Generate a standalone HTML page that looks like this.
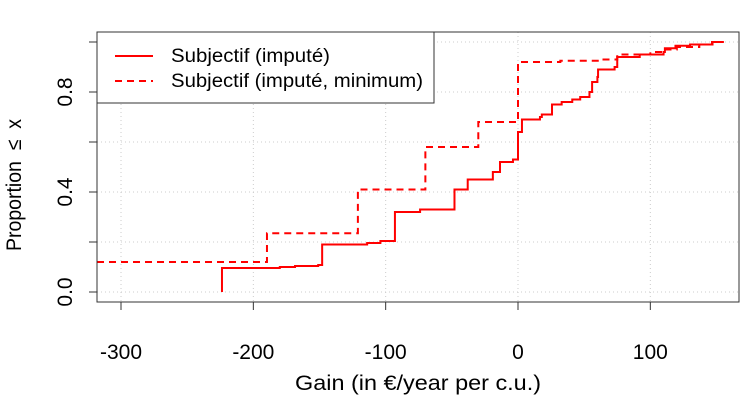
<!DOCTYPE html>
<html><head><meta charset="utf-8"><style>
body{margin:0;background:#fff}
svg{display:block;font-family:"Liberation Sans",sans-serif}
</style></head><body>
<svg id="chart" width="743" height="400">
<g id="grid"></g>
<g id="series"></g>
<rect x="97" y="32" width="642" height="270" fill="none" stroke="#333" stroke-width="1"/>
<g id="axes"></g>
<text x="418" y="390" font-size="21" text-anchor="middle" textLength="246" lengthAdjust="spacingAndGlyphs">Gain (in €/year per c.u.)</text>
<text transform="translate(21,185) rotate(-90)" font-size="21" text-anchor="middle" xml:space="preserve" textLength="132" lengthAdjust="spacingAndGlyphs">Proportion  ≤  x</text>
<g>
<rect x="97" y="32" width="337" height="71" fill="#fff" stroke="#333"/>
<line x1="115" y1="56" x2="153" y2="56" stroke="red" stroke-width="2"/>
<text x="171" y="62" font-size="19" textLength="159" lengthAdjust="spacingAndGlyphs">Subjectif (imputé)</text>
<line x1="115" y1="81" x2="153" y2="81" stroke="red" stroke-width="2" stroke-dasharray="7,5"/>
<text x="171" y="87" font-size="19" textLength="252" lengthAdjust="spacingAndGlyphs">Subjectif (imputé, minimum)</text>
</g>
</svg>
<script>
const xTicks=[-300,-200,-100,0,100];
const yTicks=[0,0.2,0.4,0.6,0.8,1.0];
const yLabels=["0.0","","0.4","","0.8",""];
const solidX=[-223.7,-180,-168.5,-151,-148,-114,-104,-93,-74,-48,-38,-19,-13.6,-3.8,0,3,16.6,18,25.7,33,41,47,54,56,60,60.5,73,75,92,110,111,119,130,146.6];
const solidY=[0.096,0.10,0.104,0.108,0.19,0.196,0.204,0.32,0.33,0.41,0.45,0.48,0.52,0.53,0.64,0.69,0.70,0.71,0.75,0.76,0.77,0.78,0.80,0.84,0.86,0.89,0.90,0.94,0.95,0.96,0.975,0.985,0.99,1.0];
const dashX=[-320,-189.7,-121,-70,-30,0,32,62,75,100,110,120,137,147];
const dashY=[0.12,0.235,0.41,0.58,0.68,0.92,0.925,0.93,0.95,0.96,0.97,0.98,0.99,1.0];
const xEnd=155.5;
const NS="http://www.w3.org/2000/svg";
const X=v=>518+v*1.3233, Y=v=>292-v*250;
function mk(tag,attrs,parent){const e=document.createElementNS(NS,tag);for(const k in attrs)e.setAttribute(k,attrs[k]);parent.appendChild(e);return e;}
const grid=document.getElementById('grid'),axes=document.getElementById('axes'),series=document.getElementById('series');
xTicks.forEach(t=>{
 const g=mk('line',{x1:X(t),x2:X(t),y1:32,y2:302,stroke:'#ccc','stroke-dasharray':'1,3'},grid);
 
 
 const tk=mk('line',{x1:X(t),x2:X(t),y1:302,y2:310,stroke:'#333'},axes);
 
 
 const tl=mk('text',{x:X(t),y:359,'font-size':21,'text-anchor':'middle'},axes);
 tl.textContent=t;
 
 
});
mk('line',{x1:X(-300),x2:X(100),y1:302,y2:302,stroke:'#333'},axes);
yTicks.forEach((t,i)=>{
 const g=mk('line',{x1:97,x2:739,y1:Y(t),y2:Y(t),stroke:'#ccc','stroke-dasharray':'1,3'},grid);
 
 
 const tk=mk('line',{x1:89,x2:97,y1:Y(t),y2:Y(t),stroke:'#333'},axes);
 
 
 if(yLabels[i]){const tl=mk('text',{transform:`translate(72,${Y(t)}) rotate(-90)`,'font-size':21,'text-anchor':'middle'},axes);
 tl.textContent=yLabels[i];
 
 }
});
function stepPath(xs,ys,start0){
 let d=start0?`M${X(xs[0])},${Y(0)}L${X(xs[0])},${Y(ys[0])}`:`M${Math.max(97,X(xs[0]))},${Y(ys[0])}`;
 for(let i=1;i<xs.length;i++)d+=`L${X(xs[i])},${Y(ys[i-1])}L${X(xs[i])},${Y(ys[i])}`;
 d+=`L${X(xEnd)},${Y(ys[ys.length-1])}`;return d;
}
const p1=mk('path',{d:stepPath(solidX,solidY,true),fill:'none',stroke:'red','stroke-width':2},series);


const p2=mk('path',{d:stepPath(dashX,dashY,false),fill:'none',stroke:'red','stroke-width':2,'stroke-dasharray':'7,5'},series);


</script>
</body></html>
